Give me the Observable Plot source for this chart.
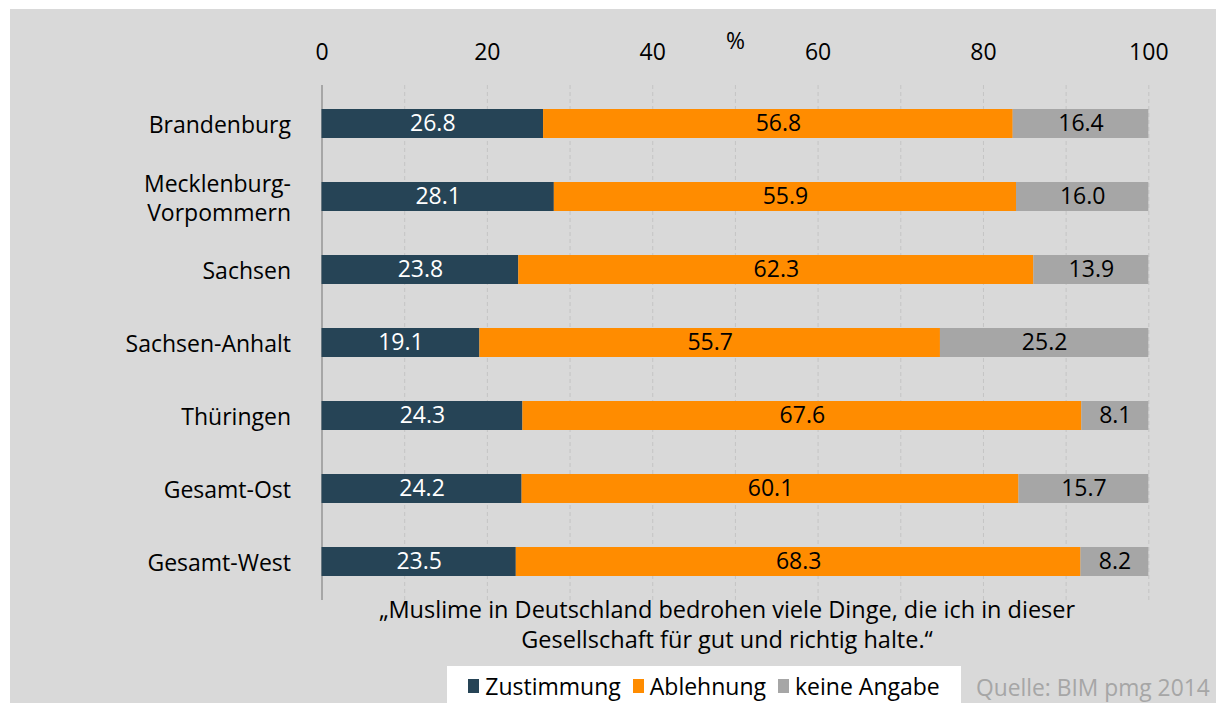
<!DOCTYPE html>
<html>
<head>
<meta charset="utf-8">
<script src="https://cdn.jsdelivr.net/npm/d3@7"></script>
<script src="https://cdn.jsdelivr.net/npm/@observablehq/plot@0.6"></script>
<style>
  html, body { margin: 0; padding: 0; background: #ffffff; width: 1216px; height: 703px; overflow: hidden; }
  #panel { position: absolute; left: 10px; top: 9px; width: 1206px; height: 694px; background: #d9d9d9; font-family: "Open Sans", sans-serif; color: #000; }
  #chart { position: absolute; left: 0; top: 0; }
  #caption { position: absolute; left: 267px; top: 585px; width: 900px; text-align: center; font-size: 23.5px; line-height: 30px; }
  #legend { position: absolute; left: 437px; top: 657px; width: 514px; height: 40px; background: #ffffff; display: flex; align-items: center; justify-content: center; font-size: 23px; }
  #legend .item { display: flex; align-items: center; margin: 0 6px; }
  #legend .sw { width: 11px; height: 14px; margin-right: 6px; display: inline-block; }
  #source { position: absolute; left: 966px; top: 663px; font-size: 22.8px; color: #a6a6a6; white-space: nowrap; }
</style>
</head>
<body>
<div id="panel">
  <div id="chart"></div>
  <div id="caption"></div>
  <div id="legend"></div>
  <div id="source"></div>
</div>
<script>
const regions = ["Brandenburg", "Mecklenburg-\nVorpommern", "Sachsen", "Sachsen-Anhalt", "Thüringen", "Gesamt-Ost", "Gesamt-West"];
const zustimmung = [26.8, 28.1, 23.8, 19.1, 24.3, 24.2, 23.5];
const ablehnung = [56.8, 55.9, 62.3, 55.7, 67.6, 60.1, 68.3];
const keineAngabe = [16.4, 16.0, 13.9, 25.2, 8.1, 15.7, 8.2];
const seriesNames = ["Zustimmung", "Ablehnung", "keine Angabe"];
const seriesColors = ["#264456", "#ff8c00", "#a6a6a6"];
const labelColors = ["#ffffff", "#000000", "#000000"];
const xTicks = [0, 20, 40, 60, 80, 100];
const gridTicks = [10, 20, 30, 40, 50, 60, 70, 80, 90, 100];
const captionLines = ["„Muslime in Deutschland bedrohen viele Dinge, die ich in dieser", "Gesellschaft für gut und richtig halte.“"];
const sourceText = "Quelle: BIM pmg 2014";
const axisLabel = "%";

const seriesValues = [zustimmung, ablehnung, keineAngabe];
const data = [];
regions.forEach((r, i) => {
  seriesNames.forEach((s, j) => {
    data.push({region: r, series: s, value: seriesValues[j][i], labelColor: labelColors[j]});
  });
});

const W = 1206, H = 600;
const chart = Plot.plot({
  width: W,
  height: H,
  marginLeft: 311.5,
  marginRight: 67.7,
  marginTop: 76,
  marginBottom: 9,
  style: {fontFamily: "Open Sans, sans-serif", fontSize: "23px", background: "transparent", color: "#000"},
  x: {domain: [0, 100], axis: null},
  y: {domain: regions, range: [53.7, 612.7], padding: 0.605, axis: null},
  color: {domain: seriesNames, range: seriesColors},
  marks: [
    Plot.ruleX(gridTicks, {stroke: "#c4c4c4", strokeWidth: 1, strokeDasharray: "4,3"}),
    Plot.ruleX([0], {stroke: "#a6a6a6", strokeWidth: 2}),
    Plot.axisX(xTicks, {anchor: "top", tickSize: 0, tickPadding: 25.5, fontSize: 23, label: null}),
    Plot.text([axisLabel], {frameAnchor: "top", text: d => d, fontSize: 23, dy: -37, lineAnchor: "bottom"}),
    Plot.barX(data, Plot.stackX({x: "value", y: "region", fill: "series", order: seriesNames})),
    Plot.text(data, Plot.stackX({x: "value", y: "region", order: seriesNames, text: d => d.value.toFixed(1), fill: "labelColor", fontSize: 23})),
    Plot.text(regions, {y: d => d, text: d => d, frameAnchor: "left", textAnchor: "end", dx: -31, fontSize: 23, lineHeight: 1.26})
  ]
});
document.getElementById("chart").appendChild(chart);

document.getElementById("caption").innerHTML = captionLines.map(l => `<div>${l}</div>`).join("");
document.getElementById("legend").innerHTML = seriesNames.map((s, i) =>
  `<span class="item"><span class="sw" style="background:${seriesColors[i]}"></span>${s}</span>`).join("");
document.getElementById("source").textContent = sourceText;
</script>
</body>
</html>
